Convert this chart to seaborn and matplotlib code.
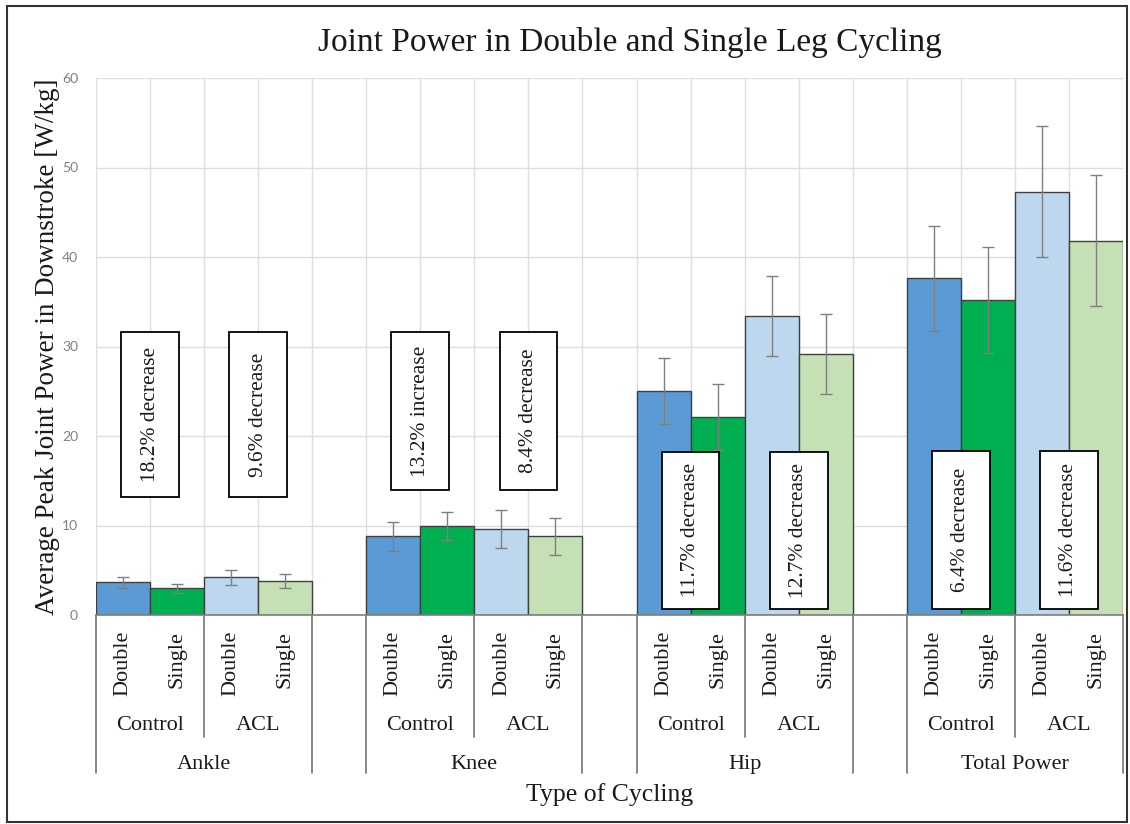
import matplotlib
matplotlib.use("Agg")
import matplotlib.pyplot as plt
import matplotlib.transforms as mtransforms
from matplotlib.patches import Rectangle
from matplotlib.lines import Line2D
import numpy as np
import pandas as pd
import seaborn as sns

# ---- data -----------------------------------------------------------------
joints = ["Ankle", "Knee", "Hip", "Total Power"]
groups = ["Control", "ACL"]
modes = ["Double", "Single"]

control_double = [3.65, 8.8, 25.0, 37.6]
control_single = [2.99, 9.96, 22.08, 35.19]
acl_double = [4.2, 9.6, 33.4, 47.3]
acl_single = [3.8, 8.79, 29.16, 41.81]

control_double_sd = [0.65, 1.6, 3.7, 5.9]
control_single_sd = [0.5, 1.6, 3.7, 5.9]
acl_double_sd = [0.85, 2.1, 4.5, 7.3]
acl_single_sd = [0.75, 2.1, 4.5, 7.3]

change_labels = ["18.2% decrease", "9.6% decrease",
                 "13.2% increase", "8.4% decrease",
                 "11.7% decrease", "12.7% decrease",
                 "6.4% decrease", "11.6% decrease"]
# vertical extent (W/kg) of each annotation box
change_box_low = [13.2, 13.2, 14.0, 14.0, 0.7, 0.7, 0.7, 0.7]
change_box_high = [31.6, 31.6, 31.6, 31.6, 18.2, 18.2, 18.3, 18.3]

y_ticks = [0, 10, 20, 30, 40, 50, 60]

palette = {
    "Control Double": "#5B9BD5",
    "Control Single": "#00B050",
    "ACL Double": "#BDD7EE",
    "ACL Single": "#C5E0B4",
}

# ---- long table: one row per bar, with an empty slot between joints -------
series = {
    ("Control", "Double"): (control_double, control_double_sd),
    ("Control", "Single"): (control_single, control_single_sd),
    ("ACL", "Double"): (acl_double, acl_double_sd),
    ("ACL", "Single"): (acl_single, acl_single_sd),
}
rows = []
slots = []
for j, joint in enumerate(joints):
    for g in groups:
        for m in modes:
            key = f"{joint}|{g}|{m}"
            slots.append(key)
            vals, sds = series[(g, m)]
            rows.append({"slot": key, "joint": joint, "group": g, "mode": m,
                         "cond": f"{g} {m}", "power": vals[j], "sd": sds[j]})
    if j < len(joints) - 1:
        slots.append(f"gap{j}")
df = pd.DataFrame(rows)

# ---- figure ---------------------------------------------------------------
sns.set_theme(style="white")
plt.rcParams["font.family"] = ["Liberation Serif", "DejaVu Serif"]

W, H = 1130, 824
fig = plt.figure(figsize=(W / 100, H / 100), dpi=100)
ax_left, ax_right, ax_top, ax_bot = 96, 1123, 78, 615
ax = fig.add_axes([ax_left / W, 1 - ax_bot / H,
                   (ax_right - ax_left) / W, (ax_bot - ax_top) / H])

sns.barplot(data=df, x="slot", y="power", hue="cond", order=slots,
            hue_order=list(palette.keys()), palette=palette, dodge=False,
            saturation=1, width=1.0, edgecolor="#404040", linewidth=1.0,
            errorbar=None, legend=False, ax=ax, zorder=2)

pos = np.array([slots.index(s) for s in df["slot"]])
ax.errorbar(pos, df["power"], yerr=df["sd"], fmt="none", ecolor="#7F7F7F",
            elinewidth=1.0, capsize=4, capthick=1.0, zorder=3)

n = len(slots)
ax.set_xlim(-0.5, n - 0.5)
ax.set_ylim(0, 60)
ax.set_yticks(y_ticks)
ax.set_yticklabels([str(t) for t in y_ticks], family="Lato", fontsize=10,
                   color="#808080")
ax.tick_params(axis="y", length=0, pad=13)
ax.set_xticks([])
ax.set_xlabel("")
ax.set_ylabel("Average Peak Joint Power in Downstroke [W/kg]", fontsize=19.5,
              labelpad=1, color="#1a1a1a")

# grid: horizontal at ticks, vertical at every slot boundary
for t in y_ticks[1:]:
    ax.axhline(t, color="#DEDEDE", lw=1.0, zorder=0)
for b in np.arange(-0.5, n, 1.0):
    ax.axvline(b, color="#DEDEDE", lw=1.0, zorder=0)

for s in ["top", "right", "left"]:
    ax.spines[s].set_visible(False)
ax.spines["bottom"].set_color("#7F7F7F")
ax.spines["bottom"].set_linewidth(1.2)
ax.spines["bottom"].set_zorder(4)

# ---- change annotations -----------------------------------------------------
box_w = 1.07
pair_starts = [slots.index(f"{j}|{g}|Double") for j in joints for g in groups]
for k, (lab, lo, hi) in enumerate(zip(change_labels, change_box_low, change_box_high)):
    xc = pair_starts[k] + 0.5
    ax.add_patch(Rectangle((xc - box_w / 2, lo), box_w, hi - lo,
                           facecolor="white", edgecolor="black", lw=1.3,
                           zorder=5))
    ax.text(xc, (lo + hi) / 2, lab, rotation=90, ha="center", va="center",
            fontsize=15.5, color="#1a1a1a", zorder=6)

# ---- multi-level category axis ---------------------------------------------
axh = ax_bot - ax_top
trans = mtransforms.blended_transform_factory(ax.transData, ax.transAxes)


def below(px):
    return -px / axh


line_kw = dict(color="#7F7F7F", lw=1.3, transform=trans, clip_on=False)
for j, joint in enumerate(joints):
    first = slots.index(f"{joint}|Control|Double")
    for gi, g in enumerate(groups):
        for mi, m in enumerate(modes):
            x = first + gi * 2 + mi
            ax.text(x, below(16), m, rotation=90, ha="center", va="top",
                    fontsize=16, transform=trans, color="#1a1a1a")
        ax.text(first + gi * 2 + 0.5, below(115), g, ha="center",
                va="baseline", fontsize=16, transform=trans, color="#1a1a1a")
    ax.text(first + 1.5, below(154), joint, ha="center", va="baseline",
            fontsize=16, transform=trans, color="#1a1a1a")
    ax.add_line(Line2D([first - 0.5, first - 0.5], [0, below(158)], **line_kw))
    ax.add_line(Line2D([first + 3.5, first + 3.5], [0, below(158)], **line_kw))
    ax.add_line(Line2D([first + 1.5, first + 1.5], [0, below(122)], **line_kw))

fig.text(((ax_left + ax_right) / 2) / W, 1 - 795 / H, "Type of Cycling",
         ha="center", va="center", fontsize=18.5, color="#1a1a1a")
fig.text(((ax_left + ax_right) / 2 + 20) / W, 1 - 42 / H,
         "Joint Power in Double and Single Leg Cycling",
         ha="center", va="center", fontsize=24, color="#1a1a1a")

# outer chart frame
fig.add_artist(Rectangle((7 / W, 1 - 822 / H), 1120 / W, 816 / H,
                         transform=fig.transFigure, fill=False,
                         edgecolor="#333333", lw=1.5))

fig.savefig("out.png", dpi=100)
